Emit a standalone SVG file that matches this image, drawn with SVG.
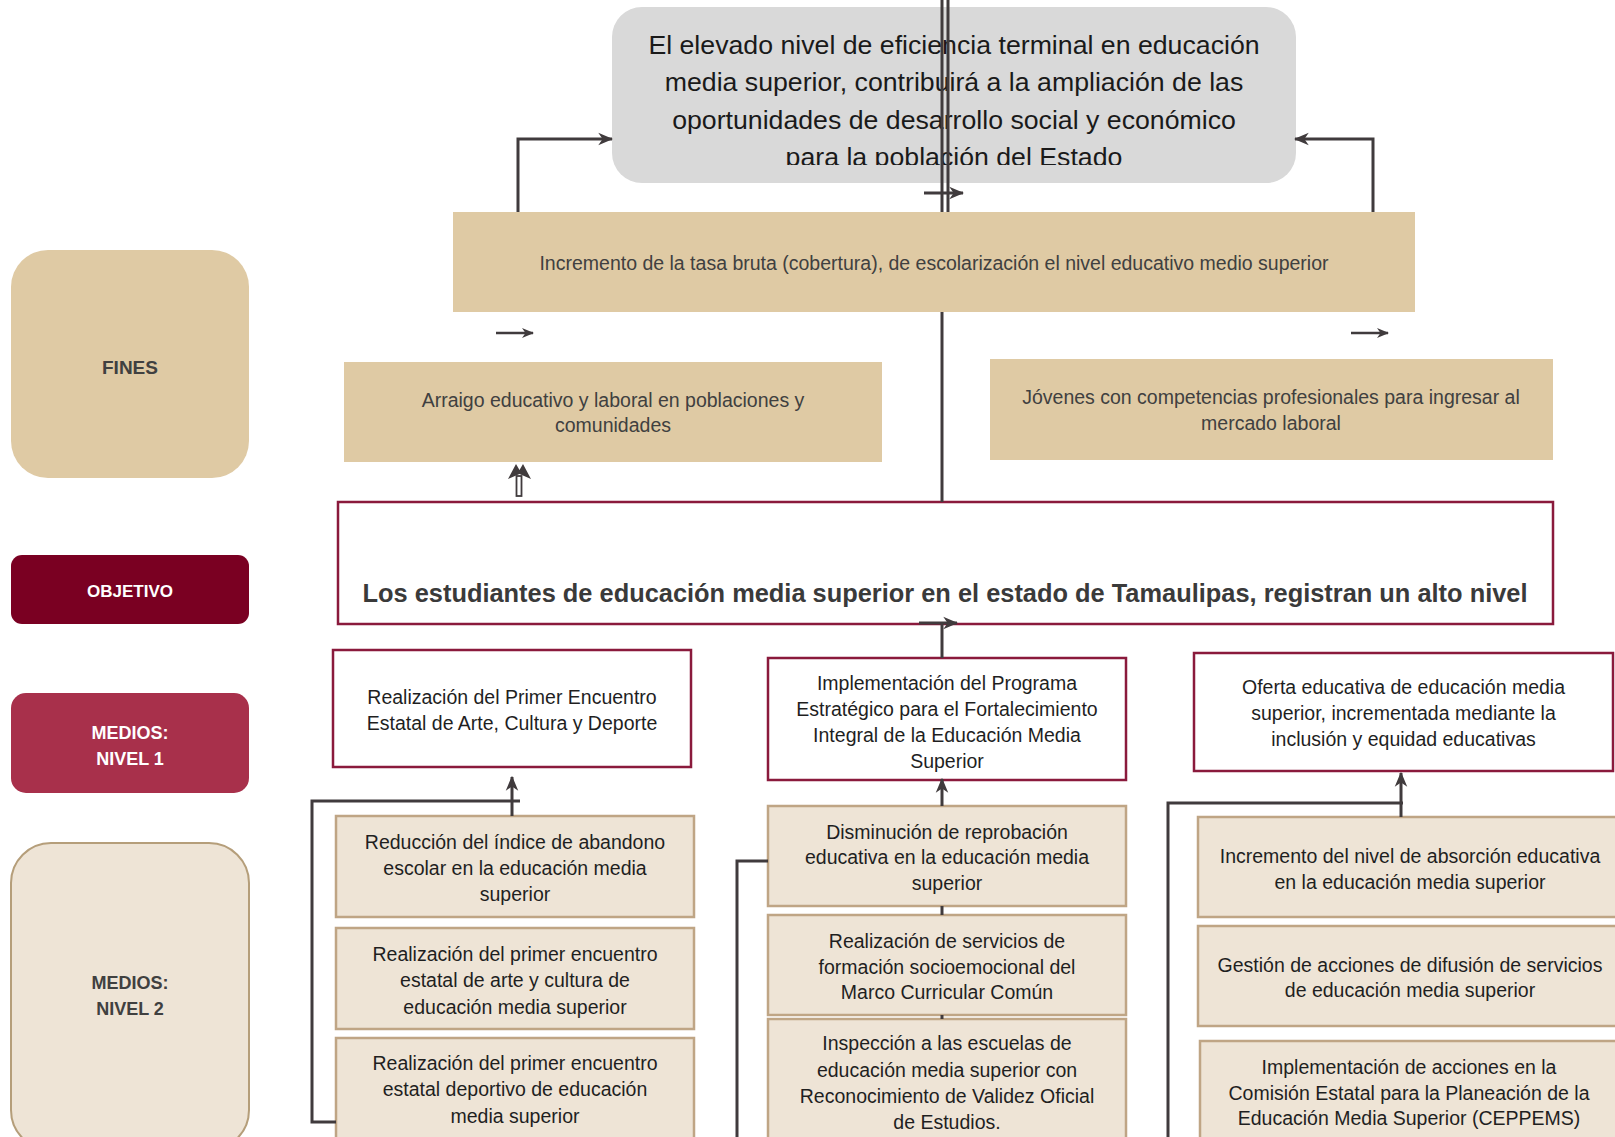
<svg xmlns="http://www.w3.org/2000/svg" width="1615" height="1137" viewBox="0 0 1615 1137">
  <style>
    .tan{fill:#DFCAA4}
    .beige{fill:#EEE4D6;stroke:#BFA585;stroke-width:2.5}
    .n1{fill:#FFFFFF;stroke:#8A1A3C;stroke-width:2.5}
    .conn{fill:none;stroke:#403B3D;stroke-width:3}
    .thin{fill:none;stroke:#403B3D;stroke-width:2.5}
    text{font-family:"Liberation Sans",Arial,sans-serif;text-anchor:middle}
    .lbl{font-weight:bold;fill:#FFFFFF}
    .lbld{font-weight:bold;fill:#404040}
    .big{font-size:26.7px;fill:#1A1A1A}
    .mid{font-size:19.5px;fill:#404040}
    .box{font-size:19.5px;fill:#1F1F1F}
    .obj{font-size:25.4px;font-weight:bold;fill:#3A3A3A}
  </style>
  <defs>
    <marker id="ah" viewBox="0 0 12 12" refX="11" refY="6" markerWidth="15" markerHeight="15" markerUnits="userSpaceOnUse" orient="auto">
      <path d="M0,1 L12,6 L0,11 L3.5,6 z" fill="#403B3D"/>
    </marker>
    <marker id="ahs" viewBox="0 0 12 12" refX="11" refY="6" markerWidth="12" markerHeight="12" markerUnits="userSpaceOnUse" orient="auto">
      <path d="M0,1 L12,6 L0,11 L3.5,6 z" fill="#403B3D"/>
    </marker>
    <clipPath id="clipTop"><rect x="612" y="7" width="684" height="158"/></clipPath>
  </defs>

  <rect width="1615" height="1137" fill="#FFFFFF"/>

  <!-- Left label column -->
  <g id="label-fines">
    <rect class="tan" x="11" y="250" width="238" height="228" rx="37"/>
    <text class="lbld" x="130" y="374" font-size="19">FINES</text>
  </g>
  <g id="label-objetivo">
    <rect x="11" y="555" width="238" height="69" rx="11" fill="#7A0022"/>
    <text class="lbl" x="130" y="597" font-size="17">OBJETIVO</text>
  </g>
  <g id="label-medios1">
    <rect x="11" y="693" width="238" height="100" rx="15" fill="#A8304B"/>
    <text class="lbl" x="130" y="738.5" font-size="18">MEDIOS:</text>
    <text class="lbl" x="130" y="764.5" font-size="18">NIVEL 1</text>
  </g>
  <g id="label-medios2">
    <rect x="11" y="843" width="238" height="307" rx="40" fill="#EEE4D6" stroke="#B59E7A" stroke-width="2"/>
    <text class="lbld" x="130" y="988.5" font-size="18">MEDIOS:</text>
    <text class="lbld" x="130" y="1014.5" font-size="18">NIVEL 2</text>
  </g>

  <!-- Fin superior -->
  <g id="fin-superior">
    <rect x="612" y="7" width="684" height="176" rx="30" fill="#D9D9D9"/>
    <g clip-path="url(#clipTop)">
      <text class="big" x="954" y="53.5">El elevado nivel de eficiencia terminal en educación</text>
      <text class="big" x="954" y="91">media superior, contribuirá a la ampliación de las</text>
      <text class="big" x="954" y="128.5">oportunidades de desarrollo social y económico</text>
      <text class="big" x="954" y="166">para la población del Estado</text>
    </g>
  </g>

  <g id="fin-incremento">
    <rect class="tan" x="453" y="212" width="962" height="100"/>
    <text class="mid" x="934" y="270">Incremento de la tasa bruta (cobertura), de escolarización el nivel educativo medio superior</text>
  </g>

  <g id="fin-arraigo">
    <rect class="tan" x="344" y="362" width="538" height="100"/>
    <text class="mid" x="613" y="407">Arraigo educativo y laboral en poblaciones y</text>
    <text class="mid" x="613" y="432">comunidades</text>
  </g>

  <g id="fin-jovenes">
    <rect class="tan" x="990" y="359" width="563" height="101"/>
    <text class="mid" x="1271" y="404">Jóvenes con competencias profesionales para ingresar al</text>
    <text class="mid" x="1271" y="430">mercado laboral</text>
  </g>

  <!-- Objetivo -->
  <g id="objetivo">
    <rect x="338" y="502" width="1215" height="122" fill="#FFFFFF" stroke="#8A1A3C" stroke-width="2.5"/>
    <text class="obj" x="945" y="602">Los estudiantes de educación media superior en el estado de Tamaulipas, registran un alto nivel</text>
  </g>

  <!-- Medios nivel 1 -->
  <g id="m1-izq">
    <rect class="n1" x="333" y="650" width="358" height="117"/>
    <text class="box" x="512" y="703.5">Realización del Primer Encuentro</text>
    <text class="box" x="512" y="730">Estatal de Arte, Cultura y Deporte</text>
  </g>
  <g id="m1-centro">
    <rect class="n1" x="768" y="658" width="358" height="122"/>
    <text class="box" x="947" y="689.5">Implementación del Programa</text>
    <text class="box" x="947" y="715.5">Estratégico para el Fortalecimiento</text>
    <text class="box" x="947" y="741.5">Integral de la Educación Media</text>
    <text class="box" x="947" y="767.5">Superior</text>
  </g>
  <g id="m1-der">
    <rect class="n1" x="1194" y="653" width="419" height="118"/>
    <text class="box" x="1403.5" y="694">Oferta educativa de educación media</text>
    <text class="box" x="1403.5" y="720">superior, incrementada mediante la</text>
    <text class="box" x="1403.5" y="746">inclusión y equidad educativas</text>
  </g>

  <!-- Medios nivel 2: izquierda -->
  <g id="m2-izq-1">
    <rect class="beige" x="336" y="816" width="358" height="101"/>
    <text class="box" x="515" y="848.5">Reducción del índice de abandono</text>
    <text class="box" x="515" y="875">escolar en la educación media</text>
    <text class="box" x="515" y="901">superior</text>
  </g>
  <g id="m2-izq-2">
    <rect class="beige" x="336" y="928" width="358" height="101"/>
    <text class="box" x="515" y="961">Realización del primer encuentro</text>
    <text class="box" x="515" y="987">estatal de arte y cultura de</text>
    <text class="box" x="515" y="1013.5">educación media superior</text>
  </g>
  <g id="m2-izq-3">
    <rect class="beige" x="336" y="1038" width="358" height="130"/>
    <text class="box" x="515" y="1070">Realización del primer encuentro</text>
    <text class="box" x="515" y="1096">estatal deportivo de educación</text>
    <text class="box" x="515" y="1122.5">media superior</text>
  </g>

  <!-- Medios nivel 2: centro -->
  <g id="m2-cen-1">
    <rect class="beige" x="768" y="806" width="358" height="100"/>
    <text class="box" x="947" y="839">Disminución de reprobación</text>
    <text class="box" x="947" y="864">educativa en la educación media</text>
    <text class="box" x="947" y="890">superior</text>
  </g>
  <g id="m2-cen-2">
    <rect class="beige" x="768" y="915" width="358" height="100"/>
    <text class="box" x="947" y="947.5">Realización de servicios de</text>
    <text class="box" x="947" y="973.5">formación socioemocional del</text>
    <text class="box" x="947" y="999">Marco Curricular Común</text>
  </g>
  <g id="m2-cen-3">
    <rect class="beige" x="768" y="1019" width="358" height="150"/>
    <text class="box" x="947" y="1050">Inspección a las escuelas de</text>
    <text class="box" x="947" y="1076.5">educación media superior con</text>
    <text class="box" x="947" y="1103">Reconocimiento de Validez Oficial</text>
    <text class="box" x="947" y="1129">de Estudios.</text>
  </g>

  <!-- Medios nivel 2: derecha -->
  <g id="m2-der-1">
    <rect class="beige" x="1198" y="817" width="425" height="100"/>
    <text class="box" x="1410" y="862.5">Incremento del nivel de absorción educativa</text>
    <text class="box" x="1410" y="888.5">en la educación media superior</text>
  </g>
  <g id="m2-der-2">
    <rect class="beige" x="1198" y="926" width="425" height="100"/>
    <text class="box" x="1410" y="971.5">Gestión de acciones de difusión de servicios</text>
    <text class="box" x="1410" y="997">de educación media superior</text>
  </g>
  <g id="m2-der-3">
    <rect class="beige" x="1200" y="1041" width="423" height="130"/>
    <text class="box" x="1409" y="1073.5">Implementación de acciones en la</text>
    <text class="box" x="1409" y="1099.5">Comisión Estatal para la Planeación de la</text>
    <text class="box" x="1409" y="1125">Educación Media Superior (CEPPEMS)</text>
  </g>

  <!-- Connectors -->
  <g id="connectors">
    <line class="conn" x1="942" y1="0" x2="942" y2="212"/>
    <line class="conn" x1="948" y1="0" x2="948" y2="212"/>
    <line class="conn" x1="924" y1="193" x2="963" y2="193" marker-end="url(#ah)"/>
    <path class="conn" d="M518,212 V139 H612" marker-end="url(#ah)"/>
    <path class="conn" d="M1373,212 V139 H1295" marker-end="url(#ah)"/>
    <line class="conn" x1="942" y1="312" x2="942" y2="502"/>
    <line class="thin" x1="496" y1="333" x2="533" y2="333" marker-end="url(#ahs)"/>
    <line class="thin" x1="1351" y1="333" x2="1388" y2="333" marker-end="url(#ahs)"/>
    <g id="double-arrow">
      <rect x="516.5" y="476" width="5" height="20" fill="#FFFFFF" stroke="#403B3D" stroke-width="1.8"/>
      <path d="M508,479 L516,464 L519.5,470 L523,464 L531,479 L519.5,474 z" fill="#403B3D"/>
    </g>
    <line class="conn" x1="919" y1="623" x2="957" y2="623" marker-end="url(#ah)"/>
    <line class="conn" x1="942" y1="623" x2="942" y2="658"/>
    <!-- left column -->
    <path class="conn" d="M336,1122 H312 V801 H520"/>
    <line class="conn" x1="512" y1="816" x2="512" y2="777" marker-end="url(#ah)"/>
    <!-- center column -->
    <line class="conn" x1="942" y1="806" x2="942" y2="779" marker-end="url(#ah)"/>
    <line class="conn" x1="942" y1="906" x2="942" y2="915"/>
    <line class="conn" x1="942" y1="1015" x2="942" y2="1019"/>
    <path class="conn" d="M768,861 H737 V1137"/>
    <!-- right column -->
    <path class="conn" d="M1403,803 H1168 V1137"/>
    <line class="conn" x1="1401" y1="817" x2="1401" y2="773" marker-end="url(#ah)"/>
  </g>
</svg>
